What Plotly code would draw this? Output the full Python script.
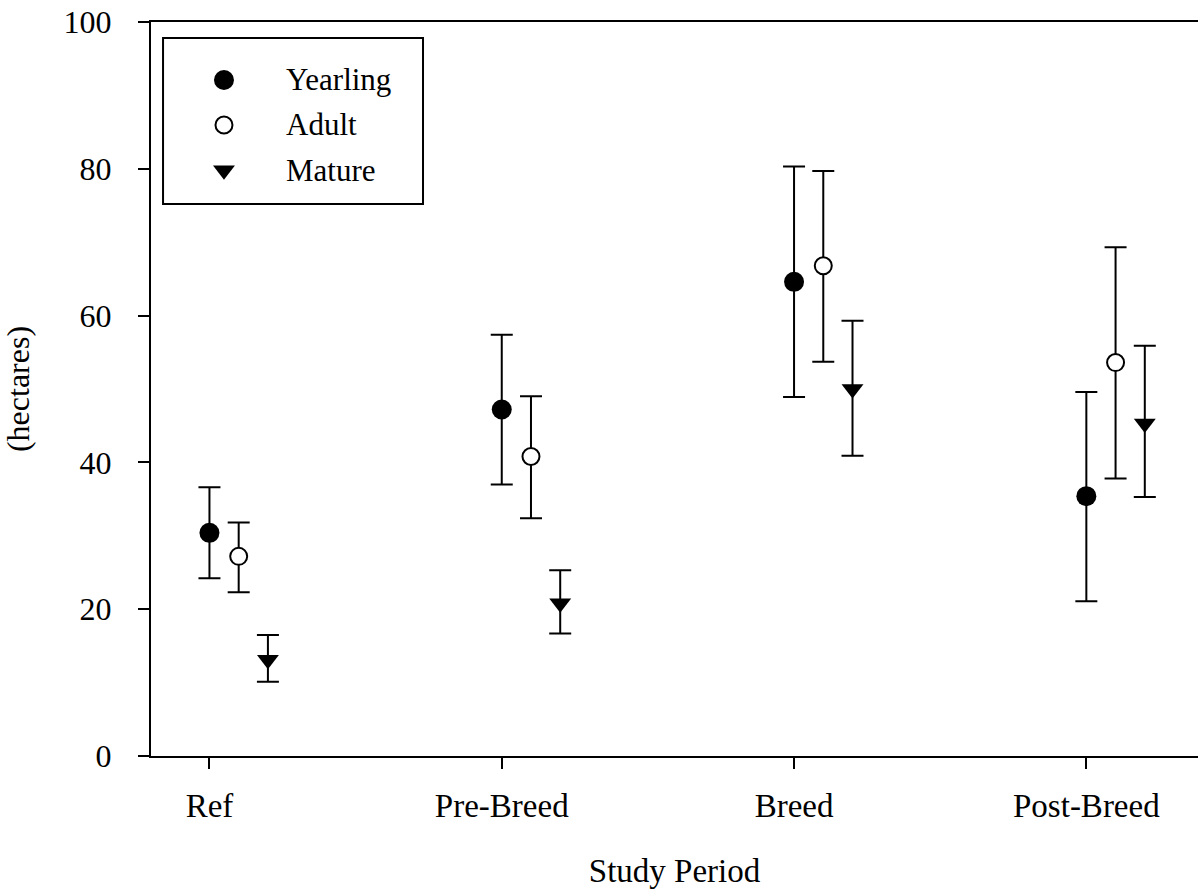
import plotly.graph_objects as go
import numpy as np

categories = ["Ref", "Pre-Breed", "Breed", "Post-Breed"]
y_ticks = [0, 20, 40, 60, 80, 100]

yearling_mean = [30.4, 47.2, 64.6, 35.4]
yearling_upper = [36.6, 57.4, 80.3, 49.6]
yearling_lower = [24.2, 37.0, 48.9, 21.1]

adult_mean = [27.2, 40.8, 66.8, 53.6]
adult_upper = [31.8, 49.0, 79.7, 69.3]
adult_lower = [22.3, 32.4, 53.7, 37.8]

mature_mean = [13.1, 20.8, 50.0, 45.3]
mature_upper = [16.5, 25.3, 59.3, 55.9]
mature_lower = [10.1, 16.7, 40.9, 35.3]

FONT = "Liberation Serif, Times New Roman, serif"
base_x = np.arange(1, len(categories) + 1)

series = [
    ("Yearling", yearling_mean, yearling_upper, yearling_lower, 0.0,
     dict(symbol="circle", size=20, color="black", line=dict(width=0))),
    ("Adult", adult_mean, adult_upper, adult_lower, 0.1,
     dict(symbol="circle", size=17, color="white", line=dict(width=2, color="black"))),
    ("Mature", mature_mean, mature_upper, mature_lower, 0.2,
     dict(symbol="triangle-down", size=19, color="black", line=dict(width=0))),
]

fig = go.Figure()
for i, (name, m, up, lo, off, mk) in enumerate(series):
    m = np.array(m); up = np.array(up); lo = np.array(lo)
    fig.add_trace(go.Scatter(
        x=base_x + off, y=m, mode="markers", name=name,
        showlegend=False,
        marker=mk,
        error_y=dict(type="data", symmetric=False, array=up - m, arrayminus=m - lo,
                     color="black", thickness=2, width=11),
    ))

# Manual legend (box, symbols on an overlay axis in paper-fraction units, labels)
legend_rows_y = [0.921, 0.8597, 0.798]
legend_sym_x = 0.0697
legend_txt_x = 0.1275
for (name, _, _, _, _, mk), ly in zip(series, legend_rows_y):
    mk2 = dict(mk)
    fig.add_trace(go.Scatter(
        x=[legend_sym_x], y=[ly], mode="markers", marker=mk2,
        xaxis="x2", yaxis="y2", showlegend=False, hoverinfo="skip",
    ))
    fig.add_annotation(
        x=legend_txt_x, y=ly, xref="paper", yref="paper",
        text=name, showarrow=False, xanchor="left", yanchor="middle",
        font=dict(family=FONT, size=31, color="black"),
    )
fig.add_shape(type="rect", xref="paper", yref="paper",
              x0=0.0115, x1=0.2598, y0=0.7520, y1=0.9782,
              line=dict(color="black", width=2), fillcolor="rgba(0,0,0,0)", layer="below")

fig.update_layout(
    width=1198, height=893,
    margin=dict(l=151, r=0, t=22, b=137),
    paper_bgcolor="white", plot_bgcolor="white",
    font=dict(family=FONT, size=33, color="black"),
    showlegend=False,
    xaxis=dict(
        range=[0.8, 4.382], tickvals=list(base_x), ticktext=categories,
        showline=True, linecolor="black", linewidth=2, mirror=True,
        ticks="outside", ticklen=11, tickwidth=2, tickcolor="black",
        showgrid=False, zeroline=False, ticklabelstandoff=8,
        tickfont=dict(family=FONT, size=33),
        title=dict(text="Study Period", standoff=36, font=dict(family=FONT, size=33)),
    ),
    yaxis=dict(
        range=[0, 100], tickvals=y_ticks,
        showline=True, linecolor="black", linewidth=2,
        ticks="outside", ticklen=11, tickwidth=2, tickcolor="black",
        showgrid=False, zeroline=False, ticklabelstandoff=20,
        tickfont=dict(family=FONT, size=32),
        title=dict(text="(hectares)", standoff=24, font=dict(family=FONT, size=32)),
    ),
    xaxis2=dict(range=[0, 1], overlaying="x", visible=False, fixedrange=True),
    yaxis2=dict(range=[0, 1], overlaying="y", visible=False, fixedrange=True),
)

fig.write_html("out.html")
